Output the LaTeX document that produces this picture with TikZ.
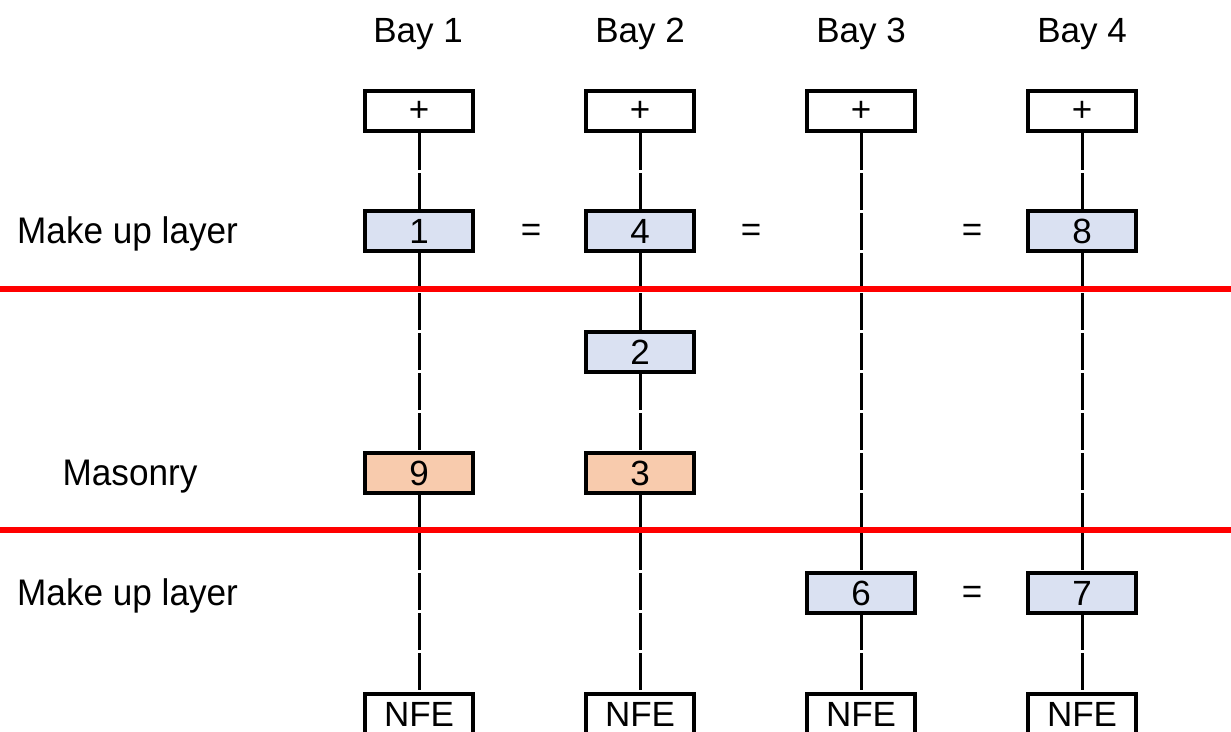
\documentclass[tikz,border=0pt]{standalone}
\usepackage{fontspec}
\setmainfont{Liberation Sans}
\begin{document}
\begin{tikzpicture}[x=1pt,y=-1pt,
  every node/.style={font=\fontsize{35}{42}\selectfont, inner sep=0pt},
  cell/.style={draw=black, line width=4pt, minimum width=108pt, minimum height=40pt},
  plusbox/.style={cell, fill=white},
  layerbox/.style={cell, fill=blueFill},
  masbox/.style={cell, fill=orangeFill},
  bayline/.style={draw=black, line width=3pt, dash pattern=on 37pt off 3pt},
  divider/.style={draw=red, line width=6pt},
  rowlabel/.style={font=\fontsize{37}{44}\selectfont, xscale=0.95}
]
\definecolor{blueFill}{HTML}{DAE1F2}
\definecolor{orangeFill}{HTML}{F8CBAD}
\useasboundingbox (0,0) rectangle (1231,731);
\clip (0,0) rectangle (1231,731);
\fill[white] (0,0) rectangle (1231,731);

% bay headings
\node[anchor=base] (bay1) at (418,42) {Bay 1};
\node[anchor=base] (bay2) at (640,42) {Bay 2};
\node[anchor=base] (bay3) at (861,42) {Bay 3};
\node[anchor=base] (bay4) at (1082,42) {Bay 4};

% top and bottom ends of each bay
\node[plusbox] (p1) at (419,111) {+};
\node[plusbox] (p2) at (640,111) {+};
\node[plusbox] (p3) at (861,111) {+};
\node[plusbox] (p4) at (1082,111) {+};
\node[plusbox] (n1) at (419,714) {NFE};
\node[plusbox] (n2) at (640,714) {NFE};
\node[plusbox] (n3) at (861,714) {NFE};
\node[plusbox] (n4) at (1082,714) {NFE};

% bay lines (drawn before the layer boxes so those cover them)
\draw[bayline] (p1) -- (n1);
\draw[bayline] (p2) -- (n2);
\draw[bayline] (p3) -- (n3);
\draw[bayline] (p4) -- (n4);

% layer boxes
\node[layerbox] (b1) at (419,231) {1};
\node[layerbox] (b4) at (640,231) {4};
\node[layerbox] (b8) at (1082,231) {8};
\node[layerbox] (b2) at (640,352) {2};
\node[masbox] (b9) at (419,473) {9};
\node[masbox] (b3) at (640,473) {3};
\node[layerbox] (b6) at (861,593) {6};
\node[layerbox] (b7) at (1082,593) {7};

% equalities
\node (eq1) at (531,233) {=};
\node (eq2) at (751,233) {=};
\node (eq3) at (972,233) {=};
\node (eq4) at (972,595) {=};

% row labels
\node[rowlabel, anchor=base west] (lab1) at (17,243) {Make up layer};
\node[rowlabel, anchor=base] (lab2) at (130,485) {Masonry};
\node[rowlabel, anchor=base west] (lab3) at (17,605) {Make up layer};

% red dividers
\coordinate (d1l) at (0,288.5);
\coordinate (d1r) at (1231,288.5);
\coordinate (d2l) at (0,529.5);
\coordinate (d2r) at (1231,529.5);
\draw[divider] (d1l) -- (d1r);
\draw[divider] (d2l) -- (d2r);
\end{tikzpicture}
\end{document}
